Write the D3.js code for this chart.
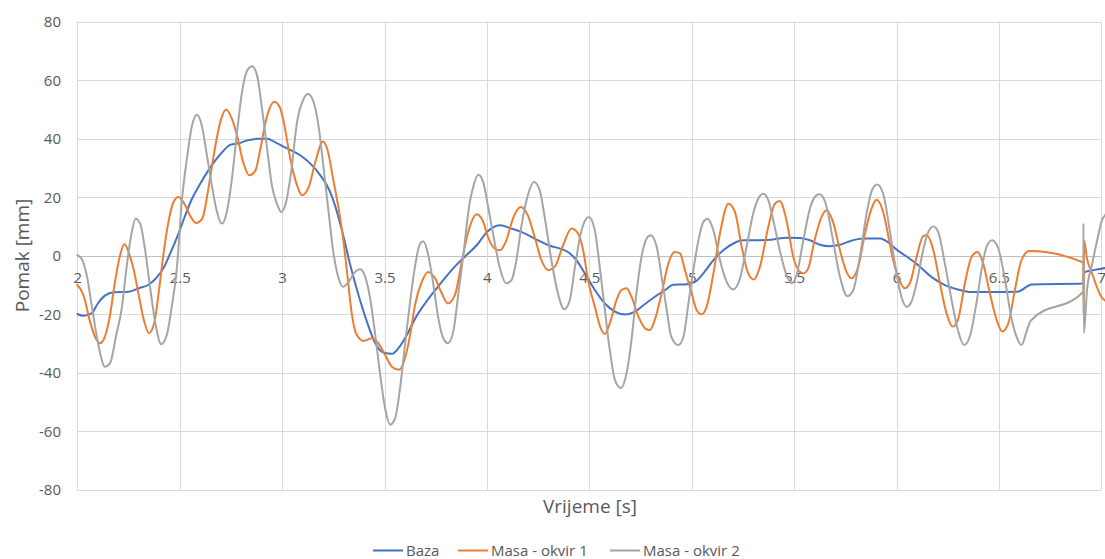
<!DOCTYPE html>
<html>
<head>
<meta charset="utf-8">
<script src="https://cdn.jsdelivr.net/npm/d3@7"></script>
<style>
  html, body { margin: 0; padding: 0; background: #fff; }
  svg { display: block; font-family: "Open Sans", "Noto Sans", sans-serif; }
</style>
</head>
<body>
<svg id="chart" width="1105" height="559"></svg>
<script>
// ---- data ----
const seriesNames = ["Baza", "Masa - okvir 1", "Masa - okvir 2"];
const xTicks = [2, 2.5, 3, 3.5, 4, 4.5, 5, 5.5, 6, 6.5, 7];
const yTicks = [-80, -60, -40, -20, 0, 20, 40, 60, 80];

const baza = [[2.0,-20.0],[2.03,-20.6],[2.07,-19.8],[2.10,-16.4],[2.135,-13.7],[2.18,-12.6],[2.25,-12.4],[2.30,-11.2],[2.35,-9.9],[2.39,-7.3],[2.42,-4.4],[2.45,0.1],[2.494,7.5],[2.527,13.7],[2.56,19.4],[2.60,24.5],[2.64,29.1],[2.674,32.5],[2.715,35.9],[2.747,37.8],[2.79,38.4],[2.837,39.5],[2.886,39.9],[2.927,39.9],[2.967,38.7],[3.016,36.9],[3.04,36.1],[3.09,34.2],[3.138,31.4],[3.187,27.4],[3.235,21.7],[3.268,14.9],[3.30,6.4],[3.333,-3.3],[3.373,-13.5],[3.414,-22.6],[3.455,-30],[3.495,-33.2],[3.536,-33.6],[3.568,-31.7],[3.609,-27.2],[3.65,-21.5],[3.698,-16.4],[3.755,-11.2],[3.80,-7.3],[3.85,-3.3],[3.90,0.1],[3.95,3.5],[4.0,8.0],[4.03,9.6],[4.065,10.3],[4.12,9.2],[4.168,8.1],[4.233,5.8],[4.30,3.5],[4.364,2.2],[4.396,1.2],[4.437,-1.6],[4.478,-6.1],[4.527,-11.8],[4.576,-16.4],[4.625,-19.2],[4.674,-20.2],[4.723,-19.2],[4.772,-16.6],[4.82,-14.1],[4.87,-11.8],[4.91,-10],[4.967,-9.9],[5.016,-9.0],[5.057,-6.1],[5.106,-1.6],[5.154,1.8],[5.203,4.1],[5.252,5.2],[5.317,5.2],[5.398,5.5],[5.463,6.1],[5.528,6.0],[5.577,5.2],[5.626,3.7],[5.675,3.2],[5.724,3.7],[5.772,4.9],[5.837,5.8],[5.919,5.8],[5.967,4.1],[6.0,2.0],[6.04,0.1],[6.106,-3.3],[6.17,-7.3],[6.236,-10.1],[6.30,-11.6],[6.366,-12.5],[6.464,-12.5],[6.59,-12.4],[6.66,-9.9],[6.912,-9.6],[6.916,-5.8],[6.96,-5.0],[7.0,-4.5],[7.02,-4.3]];

const masa1 = [[2.0,-10.1],[2.03,-13.5],[2.062,-22.6],[2.086,-27.7],[2.11,-30],[2.135,-27.7],[2.16,-20.3],[2.184,-9.0],[2.209,0.1],[2.23,3.9],[2.25,1.2],[2.274,-4.4],[2.30,-13.5],[2.323,-21.5],[2.35,-26.6],[2.377,-22.6],[2.40,-11.2],[2.42,0.1],[2.445,11.5],[2.47,18.3],[2.494,20],[2.527,17.2],[2.55,13.7],[2.58,11.1],[2.61,12.6],[2.64,22.8],[2.666,34.2],[2.70,46.1],[2.726,49.9],[2.755,46.7],[2.78,41],[2.81,31.9],[2.84,27.4],[2.87,29.1],[2.894,36.5],[2.923,46.7],[2.962,52.6],[2.99,50.5],[3.008,45.6],[3.04,33.1],[3.073,24],[3.097,20.6],[3.13,23.4],[3.162,31.9],[3.20,39],[3.22,36.5],[3.252,25.1],[3.276,16],[3.30,4.7],[3.317,-5.6],[3.341,-20.3],[3.365,-27.2],[3.398,-29.2],[3.438,-28.3],[3.47,-30],[3.503,-34],[3.536,-38],[3.571,-39.1],[3.60,-35.1],[3.625,-27.2],[3.649,-16.9],[3.682,-9],[3.714,-5.6],[3.747,-7.8],[3.78,-13],[3.81,-16.4],[3.844,-13.5],[3.877,-2.2],[3.909,8.1],[3.95,14.1],[3.982,11.5],[4.005,6.4],[4.038,2.4],[4.062,1.8],[4.095,5.2],[4.127,12.6],[4.165,16.6],[4.20,13.7],[4.233,6.4],[4.266,-1.6],[4.30,-5],[4.331,-3.9],[4.372,3.5],[4.413,9.2],[4.445,7.5],[4.47,1.8],[4.494,-8.4],[4.527,-17.5],[4.556,-24.9],[4.576,-26.8],[4.60,-23.2],[4.633,-15.2],[4.657,-11.8],[4.682,-11.2],[4.706,-14.1],[4.74,-20.9],[4.772,-24.9],[4.796,-25.5],[4.82,-22],[4.853,-13],[4.886,-2.7],[4.918,1.2],[4.943,0.7],[4.967,-5],[5.0,-13],[5.024,-18.6],[5.049,-20.1],[5.073,-17.5],[5.106,-6.1],[5.138,7.5],[5.179,17.7],[5.211,14.9],[5.244,3],[5.276,-6.1],[5.304,-8.2],[5.333,-3.9],[5.374,9.8],[5.406,17.7],[5.43,18.6],[5.463,12],[5.496,-0.5],[5.528,-5.6],[5.545,-6.1],[5.569,-4.4],[5.60,5.2],[5.634,13.2],[5.659,15.5],[5.69,11.5],[5.724,1.8],[5.756,-5.6],[5.78,-7.8],[5.813,-3.9],[5.846,7.5],[5.878,16],[5.902,19.1],[5.935,14.9],[5.967,4.1],[5.985,-2],[6.008,-7.3],[6.04,-11.2],[6.065,-9.5],[6.098,-0.5],[6.13,6.6],[6.147,6.9],[6.18,1.8],[6.212,-9.5],[6.244,-19.7],[6.274,-24.3],[6.30,-22],[6.334,-9.5],[6.366,-0.5],[6.396,1.2],[6.423,-2.7],[6.456,-13],[6.489,-22],[6.516,-26],[6.546,-23.2],[6.578,-11.8],[6.61,-1.6],[6.649,1.5],[6.912,-2.4],[6.914,-19.8],[6.916,5.2],[6.93,-1.0],[6.955,-6.1],[6.978,-10.7],[7.0,-14.1],[7.02,-15.5]];

const masa2 = [[2.0,0.1],[2.02,-1],[2.046,-6.7],[2.07,-16.9],[2.103,-30.6],[2.135,-38],[2.16,-36.8],[2.19,-27.2],[2.217,-18.1],[2.24,-4.4],[2.263,6.9],[2.285,12.6],[2.307,10.9],[2.33,2.4],[2.356,-11.2],[2.38,-22.6],[2.41,-30.3],[2.437,-27.2],[2.46,-18.1],[2.486,-4.4],[2.51,18.3],[2.535,33.1],[2.56,44.4],[2.584,48.1],[2.608,44.4],[2.633,34.2],[2.657,24],[2.682,14.9],[2.706,10.9],[2.73,14.9],[2.755,26.2],[2.78,42.2],[2.804,55.8],[2.829,63.2],[2.853,64.7],[2.878,61.5],[2.90,51.2],[2.927,36.5],[2.95,24],[2.976,17.5],[2.995,14.9],[3.02,18.5],[3.045,29],[3.073,45.6],[3.105,53.5],[3.127,55.2],[3.154,52.4],[3.18,43.3],[3.203,29.7],[3.227,14.9],[3.25,1.2],[3.276,-7.8],[3.297,-10.7],[3.325,-9],[3.357,-5.6],[3.381,-4.7],[3.406,-7.3],[3.43,-14.7],[3.455,-27.2],[3.479,-40.8],[3.503,-52.2],[3.528,-57.8],[3.552,-55.6],[3.576,-45.3],[3.60,-30.6],[3.625,-15.8],[3.65,-3.3],[3.674,4.1],[3.69,4.9],[3.714,0.1],[3.739,-10.1],[3.763,-21.5],[3.787,-28.3],[3.81,-30],[3.836,-26],[3.86,-13.5],[3.885,0.1],[3.914,17.2],[3.933,23.4],[3.958,27.6],[3.982,25.1],[4.005,17],[4.03,7.5],[4.062,-3.9],[4.095,-9.5],[4.12,-8.4],[4.144,-1.6],[4.168,9.8],[4.20,20.6],[4.23,25.1],[4.258,22.3],[4.282,13.2],[4.315,-1.6],[4.347,-13],[4.377,-18.4],[4.405,-15.2],[4.43,-3.9],[4.462,8.6],[4.498,13.2],[4.527,8.6],[4.551,-3.9],[4.576,-18.6],[4.60,-32.3],[4.625,-42.5],[4.654,-45.3],[4.682,-40.2],[4.706,-28.9],[4.73,-13],[4.755,-0.5],[4.78,5.8],[4.80,6.9],[4.829,3],[4.853,-7.3],[4.878,-18.6],[4.90,-27.7],[4.935,-30.6],[4.96,-27.7],[4.984,-16.4],[5.008,-5],[5.033,5.2],[5.057,11.5],[5.078,12.6],[5.106,8.6],[5.138,-1.6],[5.171,-9],[5.203,-11.6],[5.236,-7.8],[5.268,3],[5.30,14.3],[5.325,19.4],[5.35,21.1],[5.374,18.9],[5.40,11.5],[5.43,1.8],[5.463,-6.7],[5.488,-9.5],[5.512,-6.7],[5.545,5.2],[5.577,16],[5.61,20.6],[5.626,20.9],[5.659,16.6],[5.69,5.2],[5.724,-7.3],[5.76,-13.9],[5.789,-11.8],[5.821,-0.5],[5.854,14.3],[5.88,22.3],[5.906,24.3],[5.935,21.1],[5.967,8.6],[6.0,-6],[6.024,-14.1],[6.05,-17.5],[6.073,-15.8],[6.098,-9.5],[6.13,1.8],[6.155,8.0],[6.18,9.9],[6.204,8.0],[6.236,-2.7],[6.269,-15.2],[6.30,-25.5],[6.33,-30.6],[6.358,-27.7],[6.39,-16.4],[6.415,-5],[6.44,3],[6.467,5.2],[6.497,2.4],[6.53,-8.4],[6.56,-21],[6.586,-27.7],[6.611,-30.6],[6.635,-26],[6.655,-22.3],[6.912,-12.4],[6.913,11],[6.915,-26.5],[6.93,-12],[6.955,-3],[6.98,5.2],[7.003,12],[7.02,14]];

const seriesData = [baza, masa1, masa2];
const colors = ["#4472C4", "#ED7D31", "#A5A5A5"];

// ---- layout ----
const svg = d3.select("#chart");
const x = d3.scaleLinear().domain([2, 7]).range([77.3, 1101.3]);
const y = d3.scaleLinear().domain([-80, 80]).range([489.5, 21.5]);
const textColor = "#595959";

// grid
const grid = svg.append("g");
grid.selectAll("line.h").data(yTicks).join("line")
  .attr("x1", x(2)).attr("x2", x(7))
  .attr("y1", d => Math.round(y(d)) + 0.5).attr("y2", d => Math.round(y(d)) + 0.5)
  .attr("stroke", d => d === 0 ? "#BFBFBF" : "#D9D9D9").attr("stroke-width", 1);
grid.selectAll("line.v").data(xTicks).join("line")
  .attr("y1", y(80)).attr("y2", y(-80))
  .attr("x1", d => Math.round(x(d)) + 0.5).attr("x2", d => Math.round(x(d)) + 0.5)
  .attr("stroke", "#D9D9D9").attr("stroke-width", 1);

// y axis labels (plain hyphen minus, as in the reference)
const yAxis = d3.axisLeft(y).tickValues(yTicks).tickSize(0).tickPadding(0).tickFormat(d => String(d));
const gy = svg.append("g").attr("transform", "translate(61,0)").call(yAxis);
gy.select(".domain").remove();
gy.selectAll("text").attr("fill", textColor).style("font-size", "15px")
  .style("font-family", "'Open Sans', sans-serif").attr("dy", "0.35em");

// x axis labels at the zero line
const xAxis = d3.axisBottom(x).tickValues(xTicks).tickSize(0).tickPadding(0).tickFormat(d => String(d));
const gx = svg.append("g").attr("transform", `translate(0,${y(0) + 17})`).call(xAxis);
gx.select(".domain").remove();
gx.selectAll("text").attr("fill", textColor).style("font-size", "15px")
  .style("font-family", "'Open Sans', sans-serif");

// axis titles
svg.append("text").attr("x", 590).attr("y", 506).attr("text-anchor", "middle")
  .attr("dominant-baseline", "central").attr("fill", textColor)
  .style("font-size", "19px").text("Vrijeme [s]");
svg.append("text").attr("transform", `translate(22,${y(0)}) rotate(-90)`)
  .attr("text-anchor", "middle").attr("dominant-baseline", "central")
  .attr("fill", textColor).style("font-size", "19px").text("Pomak [mm]");

// lines
const line = d3.line().x(d => x(d[0])).y(d => y(d[1])).curve(d3.curveMonotoneX);
svg.append("g").selectAll("path").data(seriesData).join("path")
  .attr("d", d => line(d)).attr("fill", "none")
  .attr("stroke", (d, i) => colors[i]).attr("stroke-width", 2)
  .attr("stroke-linejoin", "round").attr("stroke-linecap", "round");

// legend
const legendX = [373, 458, 610];
const lg = svg.append("g");
seriesNames.forEach((name, i) => {
  lg.append("line").attr("x1", legendX[i]).attr("x2", legendX[i] + 30)
    .attr("y1", 550.5).attr("y2", 550.5).attr("stroke", colors[i]).attr("stroke-width", 2);
  lg.append("text").attr("x", legendX[i] + 33).attr("y", 550).attr("dominant-baseline", "central")
    .attr("fill", textColor).style("font-size", "15px").text(name);
});
</script>
</body>
</html>
